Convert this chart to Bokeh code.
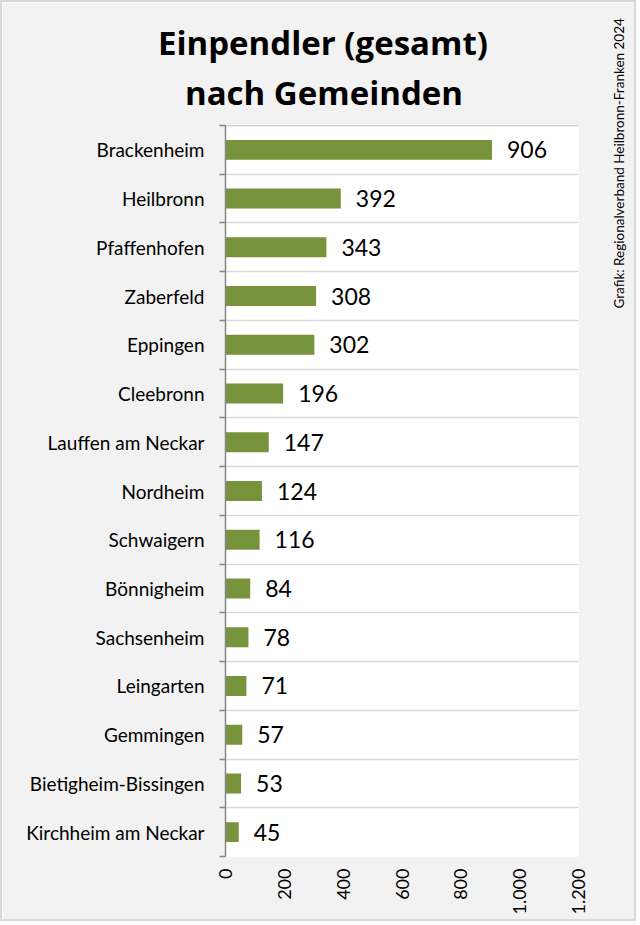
import math
from bokeh.plotting import figure
from bokeh.models import FixedTicker, Span, ColumnDataSource, Range1d, Title, LinearAxis
from bokeh.core.properties import value
from bokeh.embed import file_html
from bokeh.resources import INLINE

categories = ["Brackenheim", "Heilbronn", "Pfaffenhofen", "Zaberfeld", "Eppingen",
              "Cleebronn", "Lauffen am Neckar", "Nordheim", "Schwaigern", "Bönnigheim",
              "Sachsenheim", "Leingarten", "Gemmingen", "Bietigheim-Bissingen",
              "Kirchheim am Neckar"]
values = [906, 392, 343, 308, 302, 196, 147, 124, 116, 84, 78, 71, 57, 53, 45]
x_ticks = [0, 200, 400, 600, 800, 1000, 1200]
x_tick_labels = ["0", "200", "400", "600", "800", "1.000", "1.200"]
title_lines = ["Einpendler (gesamt)", "nach Gemeinden"]
source_note = "Grafik: Regionalverband Heilbronn-Franken 2024"

FONT = "Lato"
TFONT = "Open Sans"
n = len(categories)
ypos = [n - i - 0.5 for i in range(n)]
src = ColumnDataSource(dict(y=ypos, v=values, lbl=[str(v) for v in values]))

p = figure(width=636, height=921, x_range=Range1d(0, 1200), y_range=Range1d(0, n),
           output_backend="svg", toolbar_location=None,
           min_border_left=223, min_border_right=58, min_border_top=123, min_border_bottom=67,
           styles={"border": "2px solid #D9D9D9"})
p.background_fill_color = "white"
p.border_fill_color = "#F2F2F2"
p.outline_line_color = None

p.hbar(y="y", left=0, right="v", height=0.41, fill_color="#77933C", line_color=None, source=src)
p.text(x="v", y="y", text="lbl", x_offset=15, text_baseline="middle", text_align="left",
       text_font=value(FONT), text_font_size="23px", text_color="black", source=src)

# grid
p.xgrid.visible = False
p.ygrid.ticker = FixedTicker(ticks=list(range(0, n)))
p.ygrid.grid_line_color = "#D9D9D9"
p.ygrid.grid_line_width = 1.5
p.add_layout(Span(location=n, dimension="width", line_color="#A6A6A6", line_width=1.5))

# y axis
p.yaxis.ticker = FixedTicker(ticks=ypos, minor_ticks=list(range(0, n + 1)))
p.yaxis.major_label_overrides = {y: c for y, c in zip(ypos, categories)}
p.yaxis.major_tick_line_color = None
p.yaxis.major_tick_out = 0
p.yaxis.major_tick_in = 0
p.yaxis.minor_tick_out = 6
p.yaxis.minor_tick_in = 0
p.yaxis.minor_tick_line_color = "#868686"
p.yaxis.minor_tick_line_width = 1.5
p.yaxis.axis_line_color = "#868686"
p.yaxis.axis_line_width = 1.5
p.yaxis.major_label_standoff = 15
p.yaxis.major_label_text_font = FONT
p.yaxis.major_label_text_font_size = "19px"
p.yaxis.major_label_text_color = "black"

# x axis
p.xaxis.ticker = FixedTicker(ticks=x_ticks)
p.xaxis.major_label_overrides = {t: l for t, l in zip(x_ticks, x_tick_labels)}
p.xaxis.axis_line_color = None
p.xaxis.major_tick_line_color = None
p.xaxis.minor_tick_line_color = None
p.xaxis.major_tick_out = 0
p.xaxis.major_label_orientation = math.pi / 2
p.xaxis.major_label_standoff = 12
p.xaxis.major_label_text_font = FONT
p.xaxis.major_label_text_font_size = "18px"
p.xaxis.major_label_text_color = "black"

# title (line 2 first: closest to the frame)
p.add_layout(Title(text=title_lines[1], align="left", offset=-40.5, standoff=22,
                   text_font=TFONT, text_font_style="bold", text_font_size="33px",
                   text_color="black"), "above")
p.add_layout(Title(text=title_lines[0], align="left", offset=-67.5, standoff=-16,
                   text_font=TFONT, text_font_style="bold", text_font_size="33px",
                   text_color="black"), "above")

# vertical source note on the right, as a single rotated tick label
note_y = 11.245
note_axis = LinearAxis(ticker=FixedTicker(ticks=[note_y], minor_ticks=[]),
                       major_label_overrides={note_y: source_note},
                       major_label_orientation=math.pi / 2,
                       axis_line_color=None, major_tick_line_color=None,
                       minor_tick_line_color=None, major_tick_out=0, major_tick_in=0,
                       minor_tick_out=0, minor_tick_in=0,
                       major_label_standoff=41, major_label_text_font=FONT,
                       major_label_text_font_size="13.5px", major_label_text_color="black")
p.add_layout(note_axis, "right")

open("out.html", "w").write(file_html(p, INLINE))
